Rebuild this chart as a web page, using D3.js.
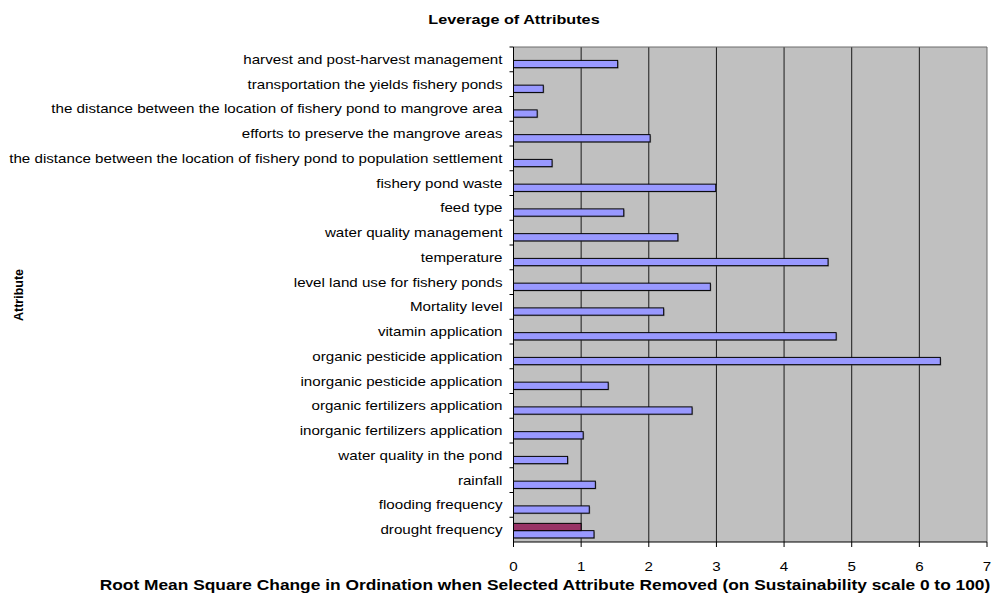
<!DOCTYPE html>
<html>
<head>
<meta charset="utf-8">
<title>Leverage of Attributes</title>
<style>
  body { margin: 0; background: #fff; }
  text { font-family: "Liberation Sans", Arial, sans-serif; fill: #000; }
</style>
</head>
<body>
<svg id="container" width="995" height="597"></svg>
<script src="https://cdn.jsdelivr.net/npm/d3@7/dist/d3.min.js"></script>
<script>
// categories, top to bottom
let attributes = [
  "harvest and post-harvest management",
  "transportation the yields fishery ponds",
  "the distance between the location of fishery pond to mangrove area",
  "efforts to preserve the mangrove areas",
  "the distance between the location of fishery pond to population settlement",
  "fishery pond waste",
  "feed type",
  "water quality management",
  "temperature",
  "level land use for fishery ponds",
  "Mortality level",
  "vitamin application",
  "organic pesticide application",
  "inorganic pesticide application",
  "organic fertilizers application",
  "inorganic fertilizers application",
  "water quality in the pond",
  "rainfall",
  "flooding frequency",
  "drought frequency"
]
let rmsChange = [1.54, 0.44, 0.35, 2.02, 0.57, 2.99, 1.63, 2.43, 4.65, 2.91,
                 2.22, 4.77, 6.31, 1.40, 2.64, 1.03, 0.80, 1.21, 1.12, 1.19]
// second series only present for the last attribute
let otherSeries = [0, 0, 0, 0, 0, 0, 0, 0, 0, 0,
                   0, 0, 0, 0, 0, 0, 0, 0, 0, 1.0]
let xTicks = [0, 1, 2, 3, 4, 5, 6, 7]

let svg = d3.select("#container")
let pLeft = 513.5, pRight = 987, pTop = 47, pBottom = 542
let stretch = 1.165 // the original text looks a little wide

let x = d3.scaleLinear().domain([0, 7]).range([pLeft, pRight])
let y = d3.scaleBand().domain(attributes).range([pTop, pBottom]).padding(0)
// two slots inside each band: other series above, rms below
let ySub = d3.scaleBand().domain(["other", "rms"]).range([0, y.bandwidth()])
  .paddingInner(0).paddingOuter(0.7).align(0.6)

// plot background
svg.append("rect")
  .attr("x", pLeft).attr("y", pTop)
  .attr("width", pRight - pLeft).attr("height", pBottom - pTop)
  .attr("fill", "#c0c0c0")

// vertical gridlines
svg.selectAll(".grid")
  .data(xTicks.slice(1, -1))
  .enter().append("line")
  .attr("x1", d => x(d)).attr("x2", d => x(d))
  .attr("y1", pTop).attr("y2", pBottom)
  .attr("stroke", "#1a1a1a").attr("stroke-width", 1)

// top / right border
svg.append("path")
  .attr("d", `M${pLeft},${pTop}H${pRight}V${pBottom}`)
  .attr("fill", "none").attr("stroke", "#6a6a6a").attr("stroke-width", 1)

let rows = attributes.map((a, i) => ({ name: a, rms: rmsChange[i], other: otherSeries[i] }))

// bar shadows
svg.selectAll(".shadow")
  .data(rows)
  .enter().append("rect")
  .attr("x", x(0) + 1)
  .attr("y", d => y(d.name) + ySub("rms") + 1)
  .attr("width", d => x(d.rms) - x(0))
  .attr("height", ySub.bandwidth())
  .attr("fill", "#555").attr("opacity", 0.5)

svg.selectAll(".rms")
  .data(rows)
  .enter().append("rect")
  .attr("x", x(0))
  .attr("y", d => y(d.name) + ySub("rms"))
  .attr("width", d => x(d.rms) - x(0))
  .attr("height", ySub.bandwidth())
  .attr("fill", "#9999ff").attr("stroke", "#000").attr("stroke-width", 1)

svg.selectAll(".other")
  .data(rows.filter(d => d.other > 0))
  .enter().append("rect")
  .attr("x", x(0))
  .attr("y", d => y(d.name) + ySub("other"))
  .attr("width", d => x(d.other) - x(0))
  .attr("height", ySub.bandwidth())
  .attr("fill", "#993366").attr("stroke", "#000").attr("stroke-width", 1)

// y axis line and ticks at band edges
svg.append("line")
  .attr("x1", pLeft).attr("x2", pLeft).attr("y1", pTop).attr("y2", pBottom + 5)
  .attr("stroke", "#000")
svg.selectAll(".ytick")
  .data(attributes)
  .enter().append("line")
  .attr("x1", pLeft - 4).attr("x2", pLeft)
  .attr("y1", d => y(d)).attr("y2", d => y(d))
  .attr("stroke", "#000")
svg.selectAll(".ylab")
  .data(attributes)
  .enter().append("text")
  .attr("transform", d => `translate(${pLeft - 11},${y(d) + y.bandwidth() / 2 + 4.5}) scale(${stretch},1)`)
  .attr("text-anchor", "end")
  .attr("font-size", 13)
  .text(d => d)

// x axis
svg.append("line")
  .attr("x1", pLeft).attr("x2", pRight).attr("y1", pBottom).attr("y2", pBottom)
  .attr("stroke", "#000")
svg.selectAll(".xtick")
  .data(xTicks)
  .enter().append("line")
  .attr("x1", d => x(d)).attr("x2", d => x(d))
  .attr("y1", pBottom).attr("y2", pBottom + 5)
  .attr("stroke", "#000")
svg.selectAll(".xlab")
  .data(xTicks)
  .enter().append("text")
  .attr("transform", d => `translate(${x(d)},${pBottom + 29}) scale(${stretch},1)`)
  .attr("text-anchor", "middle")
  .attr("font-size", 13)
  .text(d => d)

// titles
svg.append("text")
  .attr("transform", "translate(514,24) scale(1.2,1)")
  .attr("text-anchor", "middle")
  .attr("font-size", 13.5).attr("font-weight", "bold")
  .text("Leverage of Attributes")
svg.append("text")
  .attr("transform", "translate(545,590) scale(1.24,1)")
  .attr("text-anchor", "middle")
  .attr("font-size", 14).attr("font-weight", "bold")
  .text("Root Mean Square Change in Ordination when Selected Attribute Removed (on Sustainability scale 0 to 100)")
svg.append("text")
  .attr("transform", "translate(23,295) rotate(-90)")
  .attr("text-anchor", "middle")
  .attr("font-size", 12.5).attr("font-weight", "bold")
  .text("Attribute")
</script>
</body>
</html>
